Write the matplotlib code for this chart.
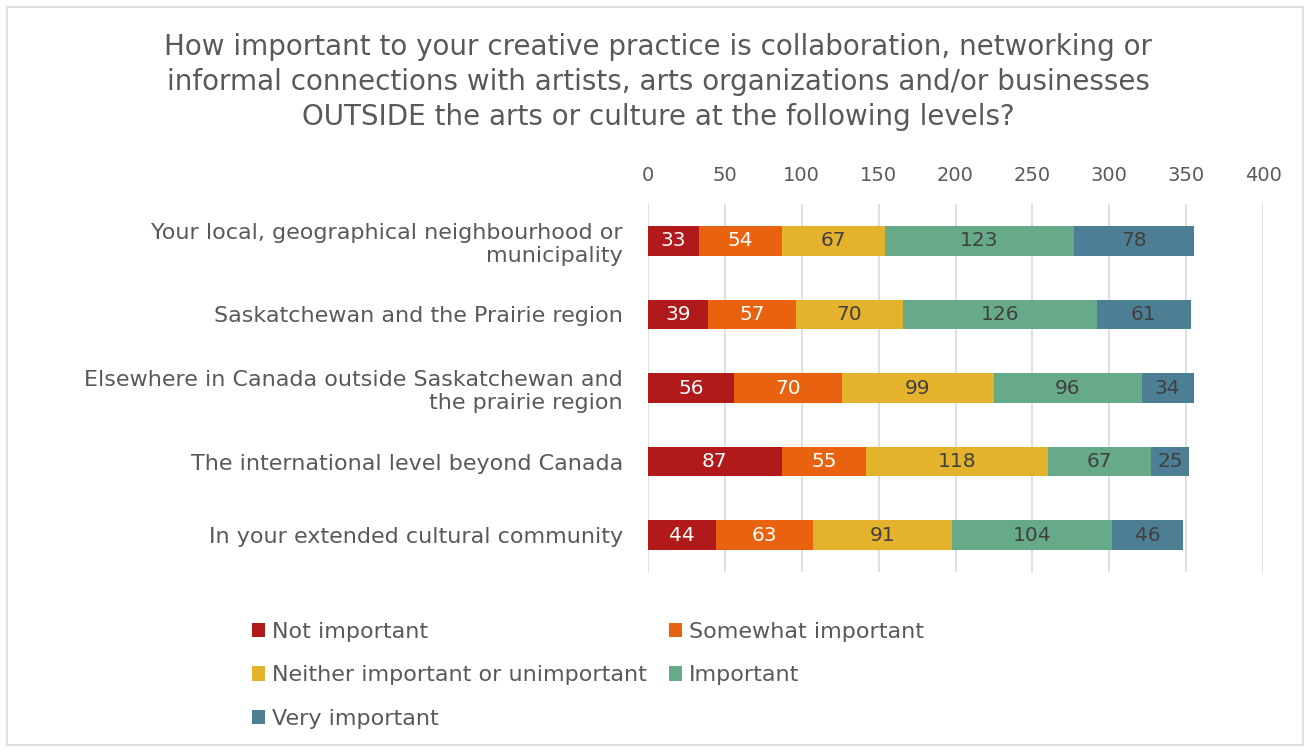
import matplotlib.pyplot as plt
import numpy as np
from matplotlib.patches import Rectangle

categories = [
    "Your local, geographical neighbourhood or\nmunicipality",
    "Saskatchewan and the Prairie region",
    "Elsewhere in Canada outside Saskatchewan and\nthe prairie region",
    "The international level beyond Canada",
    "In your extended cultural community",
]
series_names = ["Not important", "Somewhat important",
                "Neither important or unimportant", "Important", "Very important"]
not_important = [33, 39, 56, 87, 44]
somewhat = [54, 57, 70, 55, 63]
neither = [67, 70, 99, 118, 91]
important = [123, 126, 96, 67, 104]
very = [78, 61, 34, 25, 46]
x_ticks = [0, 50, 100, 150, 200, 250, 300, 350, 400]

colours = ["#B2191B", "#E8620F", "#E5B22B", "#67AA89", "#4D7F94"]
label_colours = ["white", "white", "#404040", "#404040", "#404040"]
TXT = "#595959"

plt.rcParams["font.family"] = ["DejaVu Sans"]

fig = plt.figure(figsize=(13.1, 7.51), dpi=100)
fig.patches.append(Rectangle((7 / 1310, 1 - 745 / 751), 1296 / 1310, 738 / 751,
                             transform=fig.transFigure, fill=False,
                             edgecolor="#D9D9D9", linewidth=1.2))
ax = fig.add_axes([648 / 1310, 1 - 572 / 751, 615 / 1310, 368 / 751])

y = np.arange(len(categories))
left = np.zeros(len(categories))
handles = []
for vals, name, col, lc in zip([not_important, somewhat, neither, important, very],
                               series_names, colours, label_colours):
    vals = np.array(vals)
    bars = ax.barh(y, vals, left=left, height=0.4, color=col, label=name, zorder=3)
    handles.append(bars)
    for yi, l, v in zip(y, left, vals):
        ax.text(l + v / 2, yi, str(v), ha="center", va="center",
                color=lc, fontsize=14.5, zorder=4)
    left += vals

ax.set_xlim(0, 400)
ax.set_ylim(len(categories) - 0.5, -0.5)
ax.set_xticks(x_ticks)
ax.xaxis.tick_top()
ax.tick_params(axis="x", length=0, labelsize=14, labelcolor=TXT, pad=14)
ax.set_yticks(y)
ax.set_yticklabels(categories, fontsize=16, color=TXT)
ax.tick_params(axis="y", length=0, pad=18)
for lbl in ax.get_yticklabels():
    lbl.set_multialignment("right")
ax.grid(axis="x", color="#D9D9D9", linewidth=1.2, zorder=0)
for s in ax.spines.values():
    s.set_visible(False)

fig.text(658 / 1310, 1 - 82 / 751,
         "How important to your creative practice is collaboration, networking or\n"
         "informal connections with artists, arts organizations and/or businesses\n"
         "OUTSIDE the arts or culture at the following levels?",
         ha="center", va="center", fontsize=20, color=TXT, linespacing=1.33)

# legend fills column-wise, so reorder to read row by row
order = [0, 2, 4, 1, 3]
fig.legend([handles[i] for i in order], [series_names[i] for i in order],
           ncol=2, loc="upper left", bbox_to_anchor=(232 / 1310, 1 - 602 / 751),
           frameon=False, fontsize=16, labelcolor=TXT, handlelength=0.6,
           handleheight=0.6, handletextpad=0.3, columnspacing=1.0,
           labelspacing=1.05)

fig.savefig("out.png", dpi=100)
